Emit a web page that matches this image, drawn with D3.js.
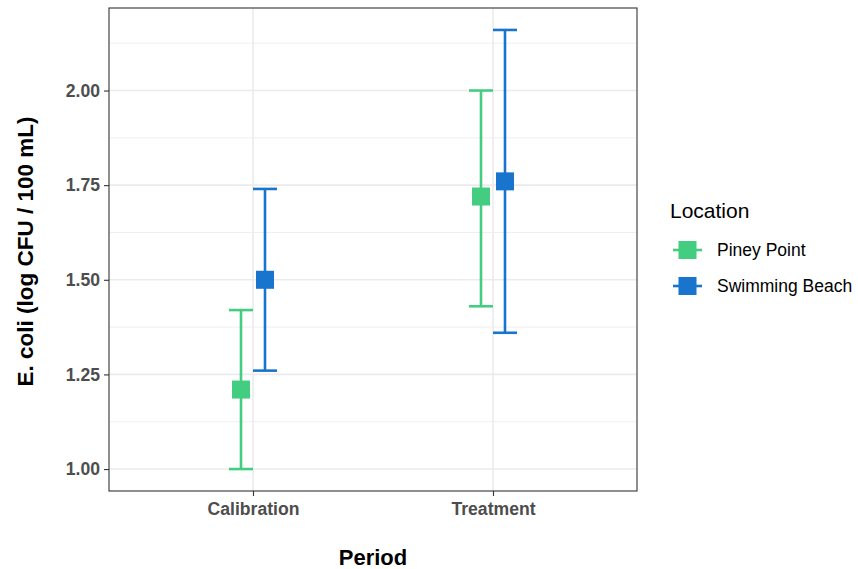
<!DOCTYPE html>
<html>
<head>
<meta charset="utf-8">
<script src="https://cdn.jsdelivr.net/npm/d3@7"></script>
<style>
  body { margin: 0; background: #fff; }
  text { font-family: "Liberation Sans", Arial, sans-serif; }
</style>
</head>
<body>
<div id="chart"></div>
<script>
const periods = ["Calibration", "Treatment"];
const locations = ["Piney Point", "Swimming Beach"];
const colors = ["#43CD80", "#1874CD"];
// per location, per period
const means = [[1.21, 1.72], [1.50, 1.76]];
const lowers = [[1.00, 1.43], [1.26, 1.36]];
const uppers = [[1.42, 2.00], [1.74, 2.16]];
const yTicks = [1.00, 1.25, 1.50, 1.75, 2.00];
const yMinor = [1.125, 1.375, 1.625, 1.875, 2.125];

const width = 858, height = 569;
const panel = { left: 109, right: 637, top: 8, bottom: 491 };

const svg = d3.select("#chart").append("svg")
    .attr("width", width)
    .attr("height", height);

const rows = [];
locations.forEach((loc, i) => {
    periods.forEach((p, j) => {
        rows.push({ loc: loc, li: i, period: p, mean: means[i][j], lo: lowers[i][j], hi: uppers[i][j] });
    });
});

// y range with ggplot style 5% expansion
const yMin = d3.min(rows, d => d.lo), yMax = d3.max(rows, d => d.hi);
const pad = (yMax - yMin) * 0.05;
const y = d3.scaleLinear()
    .domain([yMin - pad, yMax + pad])
    .range([panel.bottom, panel.top]);

// discrete axis, 0.6 units of expansion on each side
const x = d3.scalePoint()
    .domain(periods)
    .range([panel.left, panel.right])
    .padding(0.6);

const dodge = 12;   // offset of each location from the category centre
const capHalf = 12;
const xPos = d => x(d.period) + (d.li === 0 ? -dodge : dodge);

// grid
svg.append("g").selectAll("line").data(yMinor).join("line")
    .attr("x1", panel.left).attr("x2", panel.right)
    .attr("y1", d => y(d)).attr("y2", d => y(d))
    .attr("stroke", "#ebebeb").attr("stroke-width", 0.8);
svg.append("g").selectAll("line").data(yTicks).join("line")
    .attr("x1", panel.left).attr("x2", panel.right)
    .attr("y1", d => y(d)).attr("y2", d => y(d))
    .attr("stroke", "#ebebeb").attr("stroke-width", 1.6);
svg.append("g").selectAll("line").data(periods).join("line")
    .attr("x1", d => x(d)).attr("x2", d => x(d))
    .attr("y1", panel.top).attr("y2", panel.bottom)
    .attr("stroke", "#ebebeb").attr("stroke-width", 1.6);

// error bars
const bars = svg.append("g").selectAll("g").data(rows).join("g")
    .attr("stroke", d => colors[d.li])
    .attr("stroke-width", 2.6)
    .attr("fill", "none");
bars.append("line")
    .attr("x1", xPos).attr("x2", xPos)
    .attr("y1", d => y(d.lo)).attr("y2", d => y(d.hi));
bars.append("line")
    .attr("x1", d => xPos(d) - capHalf).attr("x2", d => xPos(d) + capHalf)
    .attr("y1", d => y(d.lo)).attr("y2", d => y(d.lo));
bars.append("line")
    .attr("x1", d => xPos(d) - capHalf).attr("x2", d => xPos(d) + capHalf)
    .attr("y1", d => y(d.hi)).attr("y2", d => y(d.hi));

// points
const sq = 18;
svg.append("g").selectAll("rect").data(rows).join("rect")
    .attr("x", d => xPos(d) - sq / 2)
    .attr("y", d => y(d.mean) - sq / 2)
    .attr("width", sq).attr("height", sq)
    .attr("fill", d => colors[d.li]);

// panel border
svg.append("rect")
    .attr("x", panel.left).attr("y", panel.top)
    .attr("width", panel.right - panel.left)
    .attr("height", panel.bottom - panel.top)
    .attr("fill", "none")
    .attr("stroke", "#333333")
    .attr("stroke-width", 1.1);

// axes
const yAxis = svg.append("g")
    .attr("transform", `translate(${panel.left},0)`)
    .call(d3.axisLeft(y).tickValues(yTicks).tickFormat(d3.format(".2f")).tickSize(5).tickPadding(4));
const xAxis = svg.append("g")
    .attr("transform", `translate(0,${panel.bottom})`)
    .call(d3.axisBottom(x).tickSize(5).tickPadding(7));
[yAxis, xAxis].forEach(a => {
    a.select(".domain").remove();
    a.selectAll(".tick line").attr("stroke", "#333333").attr("stroke-width", 1.1);
    a.selectAll(".tick text")
        .attr("fill", "#4d4d4d")
        .style("font-size", "17.6px")
        .style("font-weight", "bold")
        .style("font-family", "'Liberation Sans', Arial, sans-serif");
});

// axis titles
svg.append("text")
    .attr("x", (panel.left + panel.right) / 2)
    .attr("y", 565)
    .attr("text-anchor", "middle")
    .style("font-size", "22px")
    .style("font-weight", "bold")
    .text("Period");
svg.append("text")
    .attr("transform", `translate(33,${(panel.top + panel.bottom) / 2 + 2}) rotate(-90)`)
    .attr("text-anchor", "middle")
    .style("font-size", "22.5px")
    .style("font-weight", "bold")
    .text("E. coli (log CFU / 100 mL)");

// legend
const legend = svg.append("g").attr("transform", "translate(670,0)");
legend.append("text")
    .attr("x", 0).attr("y", 218)
    .style("font-size", "21px")
    .text("Location");
const keys = legend.selectAll("g.key").data(locations).join("g")
    .attr("class", "key")
    .attr("transform", (d, i) => `translate(0,${250 + i * 36})`);
keys.append("line")
    .attr("x1", 3).attr("x2", 32)
    .attr("y1", 0).attr("y2", 0)
    .attr("stroke", (d, i) => colors[i])
    .attr("stroke-width", 2.6);
keys.append("rect")
    .attr("x", 17.5 - sq / 2).attr("y", -sq / 2)
    .attr("width", sq).attr("height", sq)
    .attr("fill", (d, i) => colors[i]);
keys.append("text")
    .attr("x", 47).attr("y", 6)
    .style("font-size", "17.5px")
    .text(d => d);
</script>
</body>
</html>
